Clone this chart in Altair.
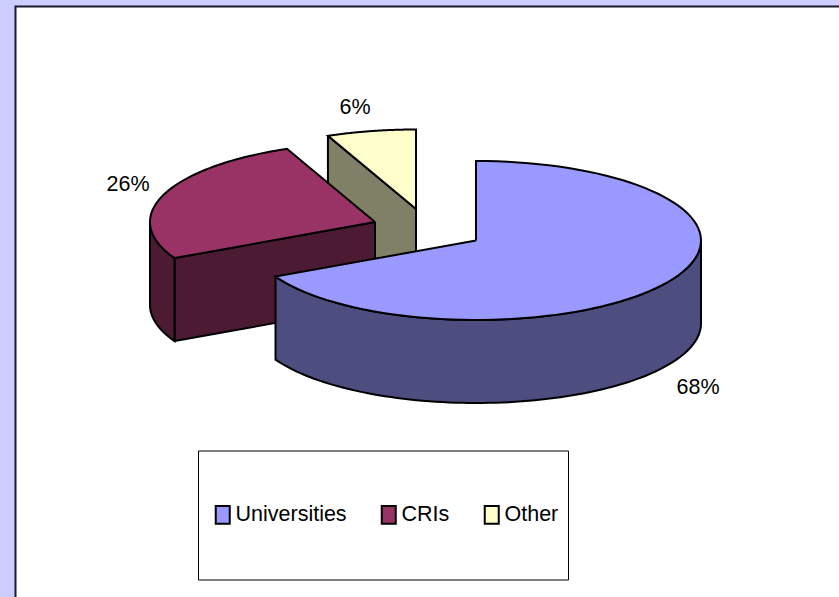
import math
import altair as alt
import pandas as pd

categories = ["Universities", "CRIs", "Other"]
shares = [67.5, 26.1, 6.4]
labels = ["68%", "26%", "6%"]
top_colors = ["#9999ff", "#993366", "#ffffcc"]
side_colors = ["#4d4d80", "#4d1a33", "#808066"]
apex_x = [476, 375, 416]
apex_y = [240.5, 222, 209]
label_x = [698, 128, 355]
label_y = [388, 185, 108]
RX, RY, DEPTH = 225, 79.5, 83
W, H = 839, 597
FONT = "Liberation Sans"
FONT_SIZE = 21.5

xs = alt.X("x:Q", scale=alt.Scale(domain=[0, W], nice=False, zero=False), axis=None)
ys = alt.Y("y:Q", scale=alt.Scale(domain=[H, 0], nice=False, zero=False), axis=None)


def rim(cx, cy, a0, a1, drop=0.0, n=90):
    out = []
    for k in range(n + 1):
        t = math.radians(a0 + (a1 - a0) * k / n)
        out.append((cx + RX * math.sin(t), cy - RY * math.cos(t) + drop))
    return out


def poly(points, mark_fill=None, encode_fill=None):
    rows = [{"x": p[0], "y": p[1], "i": i, "cat": encode_fill} for i, p in enumerate(points + points[:1])]
    base = alt.Chart(pd.DataFrame(rows))
    kw = dict(stroke="black", strokeWidth=2, strokeJoin="miter", clip=True)
    if mark_fill:
        return base.mark_line(fill=mark_fill, **kw).encode(x=xs, y=ys, order="i:Q")
    return base.mark_line(**kw).encode(
        x=xs, y=ys, order="i:Q",
        fill=alt.Fill(
            "cat:N",
            scale=alt.Scale(domain=categories, range=top_colors),
            legend=alt.Legend(
                title=None, orient="none", legendX=212, legendY=504, direction="horizontal",
                columns=3, columnPadding=30, symbolType="M-1,-1.28H1V1.28H-1Z", symbolSize=196,
                symbolStrokeColor="black", symbolStrokeWidth=2, symbolOpacity=1,
                labelFont=FONT, labelFontSize=FONT_SIZE, labelColor="black", labelOffset=2, labelLimit=0,
            ),
        ),
    )


def wedge_layers(idx):
    start = sum(shares[:idx]) * 3.6
    end = start + shares[idx] * 3.6
    cx, cy = apex_x[idx], apex_y[idx]
    apex = (cx, cy)
    sc = side_colors[idx]
    layers = []
    if idx == 0:
        top = rim(cx, cy, 90, end)
        bot = rim(cx, cy, end, 90, DEPTH)
        layers.append(poly(top + bot, sc))
    elif idx == 1:
        s = rim(cx, cy, start, start, n=1)[0]
        layers.append(poly([apex, s, (s[0], s[1] + DEPTH), (cx, cy + DEPTH)], sc))
        top = rim(cx, cy, start, 270)
        bot = rim(cx, cy, 270, start, DEPTH)
        layers.append(poly(top + bot, sc))
    else:
        s = rim(cx, cy, start, start, n=1)[0]
        layers.append(poly([s, apex, (cx, cy + DEPTH), (s[0], s[1] + DEPTH)], sc))
    layers.append(poly([apex] + rim(cx, cy, start, end), encode_fill=categories[idx]))
    return layers


panel = alt.Chart(pd.DataFrame({"x": [15.5], "x2": [W + 20], "y": [6.5], "y2": [H + 20]})).mark_rect(
    fill="white", stroke="#1a1a33", strokeWidth=2, clip=True
).encode(x=xs, x2="x2:Q", y=ys, y2="y2:Q")

legend_box = alt.Chart(pd.DataFrame({"x": [198.5], "x2": [568.5], "y": [451], "y2": [580]})).mark_rect(
    fill="white", stroke="black", strokeWidth=1
).encode(x=xs, x2="x2:Q", y=ys, y2="y2:Q")

texts = alt.Chart(pd.DataFrame({"x": label_x, "y": label_y, "t": labels})).mark_text(
    font=FONT, fontSize=FONT_SIZE, color="black", align="center", baseline="middle"
).encode(x=xs, y=ys, text="t:N")

layers = [panel, legend_box] + wedge_layers(2) + wedge_layers(1) + wedge_layers(0) + [texts]

chart = alt.layer(*layers).properties(
    width=W, height=H, background="#ccccff", padding=0,
    autosize=alt.AutoSizeParams(type="none"),
).configure_view(stroke=None)

chart.save("out.html", embed_options={
    "renderer": "svg", "actions": False,
    "defaultStyle": "body{margin:0;background:#ccccff;overflow:hidden}",
})
